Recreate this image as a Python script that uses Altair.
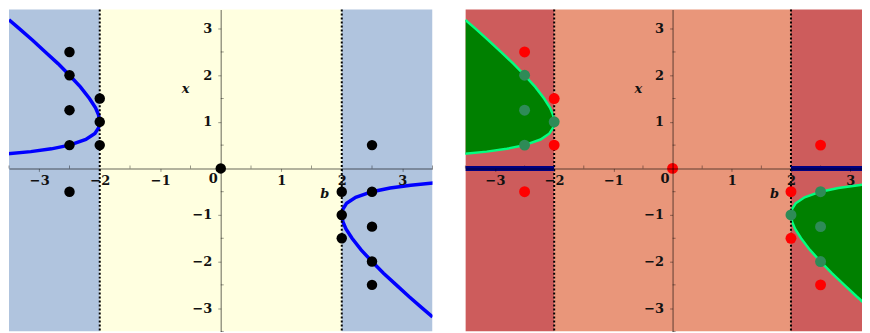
import altair as alt
import pandas as pd

# ---------------- data ----------------
# left branch of boundary curve (b, x)
curve_left_b = [-3.5, -3.33, -3.11, -2.9, -2.69, -2.5, -2.32, -2.17, -2.07, -2.02, -2.0,
                -2.02, -2.08, -2.23, -2.5, -2.8, -3.14, -3.54]
curve_left_x = [3.19, 3.0, 2.75, 2.5, 2.25, 2.0, 1.75, 1.5, 1.3, 1.15, 1.0,
                0.87, 0.75, 0.62, 0.5, 0.42, 0.36, 0.31]
# right branch of boundary curve (b, x)
curve_right_b = [3.5, 3.33, 3.11, 2.9, 2.69, 2.5, 2.32, 2.17, 2.07, 2.02, 2.0,
                 2.02, 2.08, 2.23, 2.5, 2.8, 3.14, 3.54]
curve_right_x = [-3.19, -3.0, -2.75, -2.5, -2.25, -2.0, -1.75, -1.5, -1.3, -1.15, -1.0,
                 -0.87, -0.75, -0.62, -0.5, -0.42, -0.36, -0.31]

# background bands along b
band_start = [-3.5, -2.0, 2.0]
band_end = [-2.0, 2.0, 3.5]
band_kind = ["outer", "inner", "outer"]

# dotted vertical lines
dotted_b = [-2.0, 2.0]

# navy segments on x = 0 (right panel)
seg_start = [-3.5, 2.0]
seg_end = [-2.0, 3.5]

# points
pts_b = [-2.5, -2.5, -2.5, -2.5, -2.5, -2, -2, -2, 0, 2, 2, 2, 2.5, 2.5, 2.5, 2.5, 2.5]
pts_x = [2.5, 2, 1.25, 0.5, -0.5, 1.5, 1, 0.5, 0, -0.5, -1, -1.5, 0.5, -0.5, -1.25, -2, -2.5]
pts_cls = ["out", "in", "in", "in", "out", "out", "in", "out", "out",
           "out", "in", "out", "out", "in", "in", "in", "out"]

# axis ticks and labels
major_vals = [-3, -2, -1, 1, 2, 3]
minor_vals = [-3.5, -2.5, -1.5, -0.5, 0.5, 1.5, 2.5, 3.5]
origin_text = ["0"]
title_text = ["x", "b"]
title_b = [-0.58, 1.72]
title_x = [1.71, -0.54]

Y_DOM = [-3.5, 3.41]
H = 323

curve_l = pd.DataFrame({"b": curve_left_b, "x": curve_left_x, "o": range(len(curve_left_b)),
                        "edge": -3.5})
curve_r = pd.DataFrame({"b": curve_right_b, "x": curve_right_x, "o": range(len(curve_right_b)),
                        "edge": 3.5})
bands = pd.DataFrame({"b0": band_start, "b1": band_end, "kind": band_kind,
                      "y0": -3.5, "y1": 3.5})
dotted = pd.DataFrame({"b": dotted_b})
segs = pd.DataFrame({"b0": seg_start, "b1": seg_end, "x": 0.0})
pts = pd.DataFrame({"b": pts_b, "x": pts_x, "cls": pts_cls})
titles = pd.DataFrame({"t": title_text, "b": title_b, "x": title_x})
origin = pd.DataFrame({"t": origin_text, "b": [0.0], "x": [0.0]})

FONT = "DejaVu Serif"
AX = dict(title=None, grid=False, zindex=1, labelOverlap=False, labelFlush=False, format=".0f",
          domainColor="black", domainOpacity=0.4, domainWidth=1.5,
          tickColor="black", tickOpacity=0.4, tickSize=3,
          labelFont=FONT, labelFontWeight="bold", labelFontSize=13, labelColor="#111")


def xenc(x_dom, field):
    y_off = -(0 - Y_DOM[0]) / (Y_DOM[1] - Y_DOM[0]) * H
    return alt.X(f"{field}:Q", scale=alt.Scale(domain=x_dom, nice=False, zero=False),
                 axis=alt.Axis(values=major_vals, orient="bottom", offset=y_off,
                               labelPadding=3, **AX))


def yenc(x_dom, width, field):
    x_off = -(0 - x_dom[0]) / (x_dom[1] - x_dom[0]) * width
    return alt.Y(f"{field}:Q", scale=alt.Scale(domain=Y_DOM, nice=False, zero=False),
                 axis=alt.Axis(values=major_vals, orient="left", offset=x_off,
                               labelPadding=6, **AX))


def panel(right, width, x_dom):
    outer, inner = ("#CD5C5C", "#E9967A") if right else ("#B0C4DE", "#FFFFE0")
    bg = alt.Chart(bands).mark_rect(clip=True).encode(
        x=xenc(x_dom, "b0"), x2="b1:Q", y=yenc(x_dom, width, "y0"), y2="y1:Q",
        color=alt.Color("kind:N", scale=alt.Scale(domain=["outer", "inner"], range=[outer, inner]),
                        legend=None),
    )
    layers = [bg]
    if right:
        for cdf in (curve_l, curve_r):
            layers.append(alt.Chart(cdf).mark_area(orient="horizontal", color="#008000", clip=True).encode(
                x="b:Q", x2="edge:Q", y="x:Q"))
    for cdf in (curve_l, curve_r):
        layers.append(alt.Chart(cdf).mark_line(
            color="#00FF7F" if right else "#0000FF", strokeWidth=2.5 if right else 3.5, clip=True
        ).encode(x="b:Q", y="x:Q", order="o:Q"))
    layers.append(alt.Chart(dotted).mark_rule(color="black", strokeWidth=2, strokeDash=[2, 2]).encode(
        x="b:Q"))
    # minor ticks on both axes
    minor_x = pd.DataFrame({"b": [v for v in minor_vals if x_dom[0] <= v <= x_dom[1]]})
    minor_x["x"] = 0.0
    minor_y = pd.DataFrame({"x": [v for v in minor_vals if Y_DOM[0] <= v <= Y_DOM[1]]})
    minor_y["b"] = 0.0
    layers.append(alt.Chart(minor_x).mark_tick(orient="vertical", size=3, thickness=1, yOffset=-1.5,
                                               color="black", opacity=0.4).encode(x="b:Q", y="x:Q"))
    layers.append(alt.Chart(minor_y).mark_tick(orient="horizontal", size=3, thickness=1, xOffset=1.5,
                                               color="black", opacity=0.4).encode(x="b:Q", y="x:Q"))
    if right:
        layers.append(alt.Chart(segs).mark_rule(color="#000080", strokeWidth=5, clip=True).encode(
            x="b0:Q", x2="b1:Q", y="x:Q"))
        layers.append(alt.Chart(pts).mark_circle(size=120, opacity=1).encode(
            x="b:Q", y="x:Q",
            color=alt.Color("cls:N", scale=alt.Scale(domain=["in", "out"], range=["#2E8B57", "#FF0000"]),
                            legend=None)))
    else:
        layers.append(alt.Chart(pts).mark_circle(size=110, opacity=1, color="black").encode(
            x="b:Q", y="x:Q"))
    layers.append(alt.Chart(titles).mark_text(font=FONT, fontStyle="italic", fontWeight="bold",
                                              fontSize=13, color="#111").encode(
        x="b:Q", y="x:Q", text="t:N"))
    layers.append(alt.Chart(origin).mark_text(font=FONT, fontWeight="bold", fontSize=13, color="#111",
                                              align="right", baseline="top", dx=-3, dy=5).encode(
        x="b:Q", y="x:Q", text="t:N"))
    return alt.layer(*layers).resolve_scale(color="independent").properties(width=width, height=H)


chart = alt.hconcat(panel(False, 425, [-3.5, 3.5]), panel(True, 398, [-3.5, 3.2]), spacing=31).properties(
    padding=0
).configure_view(stroke=None).configure_axis(labelOverlap=False)

chart.save("out.html", embed_options={"renderer": "svg", "actions": False})
